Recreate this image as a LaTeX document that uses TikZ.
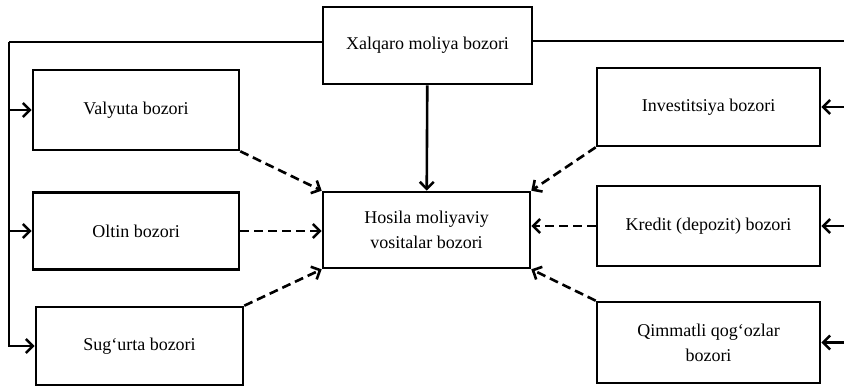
\documentclass[tikz,border=0pt]{standalone}
\usepackage{fontspec}
\setmainfont{Liberation Serif}
\usetikzlibrary{arrows.meta}
\begin{document}
\begin{tikzpicture}[x = 1pt, y = -1pt,
    box/.style = {draw, line width = 2.6pt, align = center, font = \fontsize{18}{25}\selectfont},
    arr/.style = {line width = 2.6pt, -{Straight Barb[length = 7pt, width = 14pt]}},
    darr/.style = {arr, dash pattern = on 9pt off 5pt}]
            \path[use as bounding box, clip] (0, 0) rectangle (844, 387);
            % boxes
            \node[box, minimum width = 209, minimum height = 77] (xal) at (427.5, 45.5) {Xalqaro moliya bozori};
            \node[box, minimum width = 207, minimum height = 76] (hos) at (426.5, 230) {Hosila moliyaviy\\vositalar bozori};
            \node[box, minimum width = 206, minimum height = 80] (val) at (136, 110) {Valyuta bozori};
            \node[box, minimum width = 206, minimum height = 77] (olt) at (136, 231) {Oltin bozori};
            \node[box, minimum width = 207, minimum height = 78] (sug) at (139.5, 346) {Sug‘urta bozori};
            \node[box, minimum width = 223, minimum height = 78] (inv) at (708.5, 107) {Investitsiya bozori};
            \node[box, minimum width = 223, minimum height = 80] (kre) at (708.5, 226) {Kredit (depozit) bozori};
            \node[box, minimum width = 223, minimum height = 81] (qim) at (708.5, 342.5) {Qimmatli qog‘ozlar\\bozori};
            \coordinate (lt) at (9, 42);
            \coordinate (rt) at (852, 41);
            % outer lines
            \draw[line width = 1.8pt] (xal.west |- lt) -- (lt);
            \draw[line width = 1.8pt] (xal.east |- rt) -- (rt);
            \draw[arr] (lt) |- (sug.west);
            \draw[arr] (rt) |- (qim.east);
            \foreach \n in {val, olt} \draw[arr] (lt |- \n.west) -- (\n.west);
            \foreach \n in {inv, kre} \draw[arr] (rt |- \n.east) -- (\n.east);
            \draw[arr] (xal) -- (hos);
            % dashed arrows
            \draw[darr] (val.south east) -- (hos.north west);
            \draw[darr] (olt.east) -- (hos.west |- olt.east);
            \draw[darr] (sug.north east) -- (hos.south west);
            \draw[darr] (inv.south west) -- (hos.north east);
            \draw[darr] (kre.west) -- (hos.east |- kre.west);
            \draw[darr] (qim.north west) -- (hos.south east);
        \end{tikzpicture}
\end{document}
